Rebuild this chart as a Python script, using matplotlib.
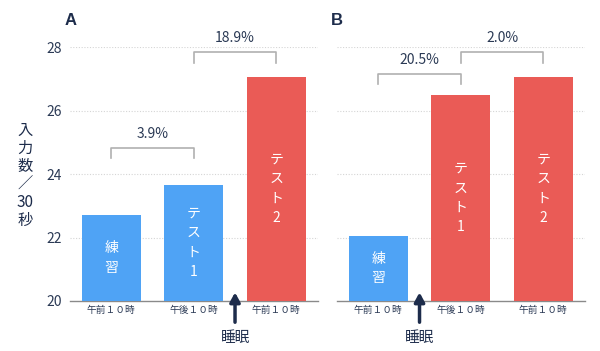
import matplotlib.pyplot as plt

plt.rcParams['font.family'] = ['Noto Sans CJK JP', 'DejaVu Sans']

# データ
times = ["午前１０時", "午後１０時", "午前１０時"]
bar_names = ["練\n習", "テ\nス\nト\n1", "テ\nス\nト\n2"]
values_a = [22.7, 23.65, 27.07]
values_b = [22.06, 26.48, 27.07]
colors_a = ["#4fa3f5", "#4fa3f5", "#ea5b56"]
colors_b = ["#4fa3f5", "#ea5b56", "#ea5b56"]
# 比較 (左バー, 右バー, 表示, 高さ)
brackets_a = [(0, 1, "3.9%", 24.83), (1, 2, "18.9%", 27.85)]
brackets_b = [(0, 1, "20.5%", 27.16), (1, 2, "2.0%", 27.85)]
sleep_a = 1.5
sleep_b = 0.5

navy = "#1d2c4b"
text_col = "#2b3a55"

fig = plt.figure(figsize=(6, 3.51), dpi=100)
ax_a = fig.add_axes([0.1167, 0.1425, 0.4125, 0.7228])
ax_b = fig.add_axes([0.5617, 0.1425, 0.4125, 0.7228])


def draw_panel(ax, values, colors, brackets, sleep_x, letter, show_y):
    x = range(len(values))
    ax.bar(x, [v - 20 for v in values], bottom=20, width=0.72, color=colors, zorder=3)
    ax.set_xlim(-0.5, 2.5)
    ax.set_ylim(20, 28)
    ax.set_yticks([20, 22, 24, 26, 28])
    ax.set_xticks(list(x))
    ax.set_xticklabels(times, fontsize=7, color=text_col)
    ax.tick_params(axis='x', length=0, pad=3)
    ax.tick_params(axis='y', length=0, pad=6, labelsize=10, labelcolor=text_col)
    if not show_y:
        ax.set_yticklabels([])
    for s in ["top", "right", "left"]:
        ax.spines[s].set_visible(False)
    ax.spines["bottom"].set_color("#8a8a8a")
    ax.spines["bottom"].set_linewidth(1.0)
    for yv in [22, 24, 26, 28]:
        ax.axhline(yv, color="#d5d5d5", lw=0.8, ls=(0, (1, 1.5)), zorder=1)

    # バー内の文字
    for i, v in enumerate(values):
        ax.text(i, 20 + (v - 20) / 2, bar_names[i], color="white", fontsize=10,
                ha="center", va="center", linespacing=1.5, zorder=4)

    # 比較ブラケット
    for i0, i1, label, h in brackets:
        ax.plot([i0, i0, i1, i1], [h - 0.33, h, h, h - 0.33], color="#b0b0b0",
                lw=1.2, clip_on=False, zorder=5)
        ax.text((i0 + i1) / 2, h + 0.43, label, ha="center", va="center",
                fontsize=10, color=text_col, clip_on=False)

    # 睡眠の矢印
    ax.annotate("", xy=(sleep_x, 20.27), xytext=(sleep_x, 19.33),
                arrowprops=dict(arrowstyle="-|>,head_width=0.3,head_length=0.55",
                                color=navy, lw=2.5, shrinkA=0, shrinkB=0),
                annotation_clip=False, zorder=6)
    ax.text(sleep_x, 18.83, "睡眠", ha="center", va="center", fontsize=10.5,
            color=navy, clip_on=False)

    ax.text(-0.57, 28.85, letter, fontsize=12, fontweight="bold", color=navy,
            family=["Liberation Sans", "DejaVu Sans"], ha="left", va="center",
            clip_on=False)


draw_panel(ax_a, values_a, colors_a, brackets_a, sleep_a, "A", True)
draw_panel(ax_b, values_b, colors_b, brackets_b, sleep_b, "B", False)

fig.text(0.042, 0.5, "入\n力\n数\n／\n30\n秒", fontsize=11, color=navy,
         ha="center", va="center", linespacing=1.08)

fig.savefig("out.png", dpi=100)
